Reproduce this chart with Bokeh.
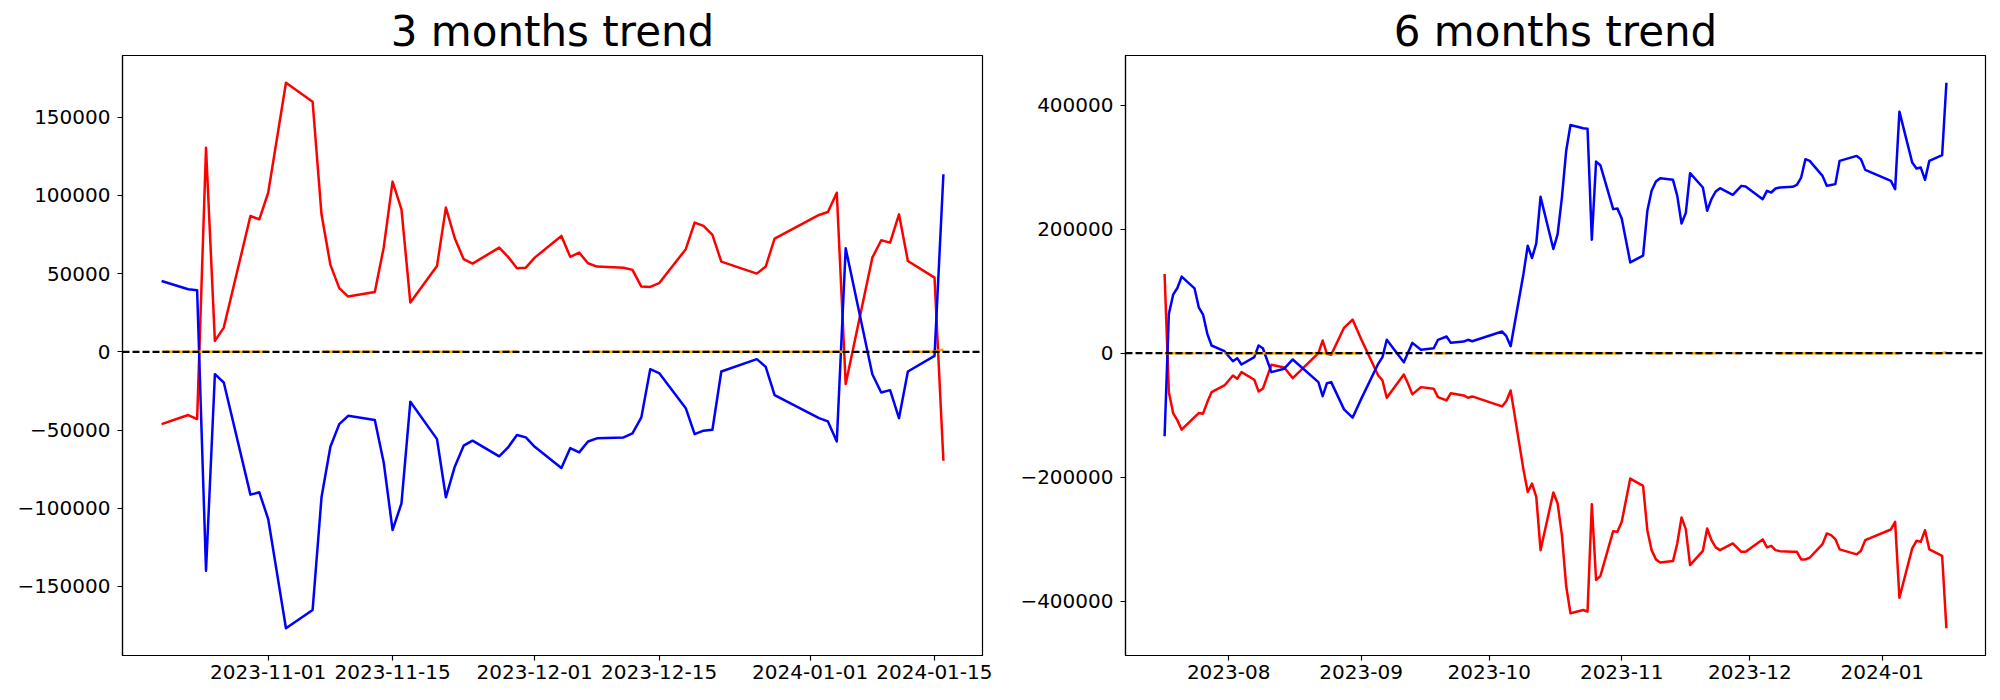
import numpy as np
import pandas as pd
from bokeh.plotting import figure
from bokeh.models import Span, FixedTicker, Range1d
from bokeh.layouts import row
from bokeh.embed import file_html
from bokeh.resources import INLINE

NAN = float("nan")

# ---------------- 3 months data ----------------
L_DATES = ["2023-10-20", "2023-10-23", "2023-10-24", "2023-10-25", "2023-10-26", "2023-10-27",
           "2023-10-30", "2023-10-31",
           "2023-11-01", "2023-11-03", "2023-11-06", "2023-11-07", "2023-11-08", "2023-11-09",
           "2023-11-10", "2023-11-13", "2023-11-14", "2023-11-15", "2023-11-16", "2023-11-17",
           "2023-11-20", "2023-11-21", "2023-11-22", "2023-11-23", "2023-11-24", "2023-11-27",
           "2023-11-28", "2023-11-29", "2023-11-30",
           "2023-12-01", "2023-12-04", "2023-12-05", "2023-12-06", "2023-12-07", "2023-12-08",
           "2023-12-11", "2023-12-12", "2023-12-13", "2023-12-14", "2023-12-15", "2023-12-18",
           "2023-12-19", "2023-12-20", "2023-12-21", "2023-12-22", "2023-12-26", "2023-12-27",
           "2023-12-28",
           "2024-01-02", "2024-01-03", "2024-01-04", "2024-01-05", "2024-01-08", "2024-01-09",
           "2024-01-10", "2024-01-11", "2024-01-12", "2024-01-15", "2024-01-16"]
L_RED = [-46200, -40400, -43000, 130500, 7000, 15500, 86800, 84700,
         101700, 172000, 159800, 87900, 55600, 40700, 35300, 38300, 66600, 108800, 91100, 31500,
         54900, 92200, 72600, 59200, 56400, 66600, 60700, 53400, 53800,
         60200, 74100, 60700, 63400, 56600, 54500, 53800, 52400, 41700, 41500, 43900, 65600,
         82600, 80500, 74700, 57700, 50000, 54500, 72400,
         87500, 89400, 101700, -20600, 60200, 71300, 69800, 87900, 58100, 47400, -69600]
L_BLUE = [45300, 40000, 39400, -139900, -14300, -19600, -91300, -89800,
          -106900, -176700, -165000, -93000, -60700, -46200, -40900, -43600, -70700, -113900,
          -96900, -31900, -55800, -93000, -73400, -60000, -56800, -66800, -61100, -53200, -54700,
          -60700, -74300, -61500, -64300, -57300, -55300, -54700, -52100, -41900, -11100, -13600,
          -36000, -52600, -50400, -49800, -12600, -4700, -9600, -27700,
          -42400, -44500, -57300, 66200, -14300, -26000, -24500, -42400, -12600, -2600, 113500]
L_ORANGE = [0, 0, 0, 0, 0, 0, 0, 0,
            0, NAN, NAN, 0, 0, 0, 0, 0, NAN, NAN, NAN, 0,
            0, 0, 0, 0, NAN, 0, 0, 0, NAN,
            NAN, NAN, NAN, NAN, 0, 0, 0, 0, 0, 0, 0, 0,
            0, 0, 0, 0, 0, 0, 0,
            0, 0, 0, 0, NAN, NAN, NAN, NAN, 0, 0, 1500]
L_XTICKS = ["2023-11-01", "2023-11-15", "2023-12-01", "2023-12-15", "2024-01-01", "2024-01-15"]
L_XLABELS = ["2023-11-01", "2023-11-15", "2023-12-01", "2023-12-15", "2024-01-01", "2024-01-15"]
L_YTICKS = [-150000, -100000, -50000, 0, 50000, 100000, 150000]

# ---------------- 6 months data ----------------
R_DATES = ["2023-07-17", "2023-07-18", "2023-07-19", "2023-07-20", "2023-07-21", "2023-07-24",
           "2023-07-25", "2023-07-26", "2023-07-27", "2023-07-28", "2023-07-31",
           "2023-08-02", "2023-08-03", "2023-08-04", "2023-08-07", "2023-08-08", "2023-08-09",
           "2023-08-11", "2023-08-14", "2023-08-16", "2023-08-22", "2023-08-23", "2023-08-24",
           "2023-08-25", "2023-08-28", "2023-08-30",
           "2023-09-01", "2023-09-05", "2023-09-06", "2023-09-07", "2023-09-11", "2023-09-12",
           "2023-09-13", "2023-09-15", "2023-09-18", "2023-09-19", "2023-09-21", "2023-09-22",
           "2023-09-25", "2023-09-26", "2023-09-27",
           "2023-10-04", "2023-10-05", "2023-10-06", "2023-10-09", "2023-10-10", "2023-10-11",
           "2023-10-12", "2023-10-13", "2023-10-16", "2023-10-17", "2023-10-18", "2023-10-19",
           "2023-10-20", "2023-10-23", "2023-10-24", "2023-10-25", "2023-10-26", "2023-10-27",
           "2023-10-30", "2023-10-31",
           "2023-11-01", "2023-11-03", "2023-11-06", "2023-11-07", "2023-11-08", "2023-11-09",
           "2023-11-10", "2023-11-13", "2023-11-14", "2023-11-15", "2023-11-16", "2023-11-17",
           "2023-11-20", "2023-11-21", "2023-11-22", "2023-11-23", "2023-11-24", "2023-11-27",
           "2023-11-29", "2023-11-30",
           "2023-12-04", "2023-12-05", "2023-12-06", "2023-12-07", "2023-12-08", "2023-12-11",
           "2023-12-12", "2023-12-13", "2023-12-14", "2023-12-15", "2023-12-18", "2023-12-19",
           "2023-12-20", "2023-12-21", "2023-12-22", "2023-12-26", "2023-12-27", "2023-12-28",
           "2024-01-03", "2024-01-04", "2024-01-05", "2024-01-08", "2024-01-09", "2024-01-10",
           "2024-01-11", "2024-01-12", "2024-01-15", "2024-01-16"]
R_BLUE = [-134000, 63400, 94400, 105200, 123400, 104600, 74000, 62300, 31200, 12400, 3200,
          -12900, -8000, -18200, -6400, 12400, 8000, -30500, -25000, -10100, -46600, -69200,
          -48300, -46600, -90600, -104000,
          -74000, -17100, -6400, 21600, -14500, 1100, 16700, 5500, 8000, 21600, 26900, 16700,
          18800, 21600, 19300,
          34900, 27400, 11300, 127800, 173300, 153500, 177000, 252100, 168000, 192100, 251000,
          326100, 367900, 362600, 362000, 182900, 308900, 303100, 232300, 233300,
          217200, 146400, 157200, 229600, 261800, 276700, 282200, 279500, 253700, 209200,
          225900, 290300, 267100, 229600, 248400, 260700, 266100, 255400, 269800, 268700,
          248400, 261800, 259100, 265500, 267100, 268200, 271400, 283200, 312800, 310100,
          285900, 269800, 271200, 272600, 310100, 318100, 312800, 295600,
          277900, 264500, 389400, 307300, 297700, 299300, 279500, 310100, 319200, 436000]
R_RED = [127800, -62800, -96500, -108300, -123300, -103000, -96500, -97500, -78800, -62800, -52000,
         -35900, -41200, -30500, -42800, -61600, -57300, -18700, -23000, -40200, 0, 20400,
         -1000, -2600, 40900, 54200,
         23000, -35900, -43900, -71800, -34300, -49300, -66400, -54700, -57300, -70800, -76100,
         -64400, -68100, -71800, -69700,
         -85800, -77200, -60000, -187700, -223700, -210200, -231700, -317500, -224600, -242300,
         -293300, -375400, -419300, -414000, -416700, -243400, -365700, -359300, -286900, -288000,
         -271900, -202100, -214000, -285300, -317500, -332400, -337300, -335200, -306700,
         -264900, -283700, -341600, -318600, -282600, -301400, -313100, -317500, -306700,
         -320200, -320200,
         -300200, -313100, -310500, -317500, -319100, -320000, -320200, -332400, -332400,
         -329800, -307800, -290600, -293300, -299700, -316300, -324400, -318600, -301400,
         -284200, -271900, -394200, -314700, -302500, -304100, -285300, -316300, -326600, -443400]
R_ORANGE = [0, 0, 0, 0, 0, 0, NAN, 0, 0, NAN, 0,
            0, 0, 0, 0, 0, 0, 0, 0, 0, 0, 0, 0, 0, 0, 0,
            0, NAN, NAN, NAN, NAN, NAN, NAN, NAN, 0, 0, 0, NAN, NAN, NAN, NAN,
            NAN, NAN, NAN, NAN, 0, 0, 0, 0, 0, 0, 0, 0, 0, 0, 0, 0, 0, 0, 0, 0,
            0, NAN, NAN, 0, 0, 0, 0, 0, NAN, NAN, NAN, 0, 0, 0, 0, 0, NAN, 0, 0, NAN,
            NAN, NAN, NAN, 0, 0, 0, 0, 0, 0, 0, 0, 0, 0, 0, 0, 0, 0, 0,
            0, 0, 0, NAN, NAN, NAN, NAN, 0, 0, 1600]
R_XTICKS = ["2023-08-01", "2023-09-01", "2023-10-01", "2023-11-01", "2023-12-01", "2024-01-01"]
R_XLABELS = ["2023-08", "2023-09", "2023-10", "2023-11", "2023-12", "2024-01"]
R_YTICKS = [-400000, -200000, 0, 200000, 400000]

TITLES = ["3 months trend", "6 months trend"]

FONT = "DejaVu Sans"


def to_ms(s):
    return pd.Timestamp(s).value // 10**6


def ylabel(v):
    return ("\u2212" + str(-v)) if v < 0 else str(v)


def make(title, dates, red, blue, orange, xticks, xlabels, yticks, bl, br):
    x = pd.to_datetime(dates)
    xs = np.array([to_ms(d) for d in dates], dtype=float)
    allv = np.array(red + blue, dtype=float)
    span_x = xs.max() - xs.min()
    span_y = np.nanmax(allv) - np.nanmin(allv)
    p = figure(x_axis_type="datetime", frame_width=860, frame_height=600,
               output_backend="svg", toolbar_location=None, title=title,
               min_border_left=bl, min_border_right=br, min_border_top=55, min_border_bottom=37,
               x_range=Range1d(xs.min() - 0.05 * span_x, xs.max() + 0.05 * span_x),
               y_range=Range1d(np.nanmin(allv) - 0.05 * span_y, np.nanmax(allv) + 0.05 * span_y))
    p.line(x, red, color="red", line_width=2.5, line_join="round")
    p.line(x, blue, color="blue", line_width=2.5, line_join="round")
    p.line(x, np.array(orange, dtype=float), color="orange", line_width=2.5)
    p.add_layout(Span(location=0, dimension="width", line_color="black",
                      line_dash="7 3", line_width=2.2))
    p.xgrid.visible = False
    p.ygrid.visible = False
    p.outline_line_color = "black"
    p.outline_line_width = 1.2
    p.outline_line_alpha = 1
    p.background_fill_color = "white"
    p.border_fill_color = "white"

    tms = [to_ms(t) for t in xticks]
    p.xaxis.ticker = FixedTicker(ticks=tms)
    p.xaxis.major_label_overrides = {t: l for t, l in zip(tms, xlabels)}
    p.yaxis.ticker = FixedTicker(ticks=yticks)
    p.yaxis.major_label_overrides = {v: ylabel(v) for v in yticks}
    for ax in (p.xaxis[0], p.yaxis[0]):
        ax.axis_line_color = "black"
        ax.axis_line_width = 1.2
        ax.major_tick_line_color = "black"
        ax.major_tick_line_width = 1.2
        ax.major_tick_out = 5
        ax.major_tick_in = 0
        ax.minor_tick_line_color = None
        ax.major_label_text_font = FONT
        ax.major_label_text_font_size = "20px"
        ax.major_label_text_color = "black"
    p.xaxis.major_label_standoff = 4
    p.yaxis.major_label_standoff = 7

    p.title.text_font = FONT
    p.title.text_font_size = "42px"
    p.title.text_font_style = "normal"
    p.title.text_color = "black"
    p.title.align = "center"
    p.title.standoff = 0
    return p


p1 = make(TITLES[0], L_DATES, L_RED, L_BLUE, L_ORANGE, L_XTICKS, L_XLABELS, L_YTICKS, 122, 10)
p2 = make(TITLES[1], R_DATES, R_RED, R_BLUE, R_ORANGE, R_XTICKS, R_XLABELS, R_YTICKS, 133, 5)

layout = row(p1, p2)
open("out.html", "w").write(file_html(layout, INLINE))
